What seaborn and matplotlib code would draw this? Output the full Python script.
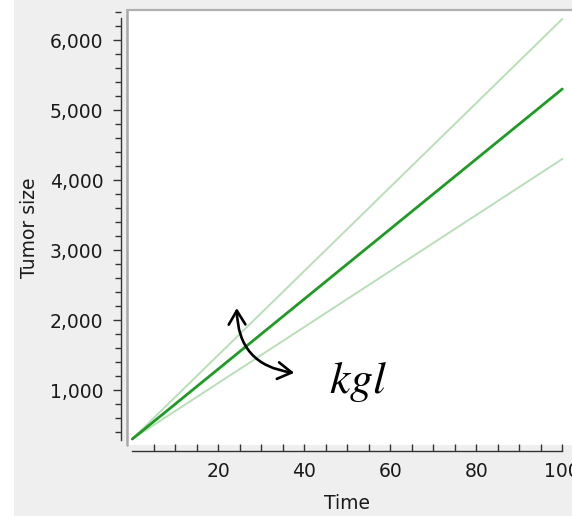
import matplotlib
matplotlib.use("Agg")
import matplotlib.pyplot as plt
import matplotlib.ticker as mticker
from matplotlib.patches import FancyArrowPatch, Rectangle
import numpy as np
import pandas as pd
import seaborn as sns

# Linear tumour growth: size = size0 + kgl * t, with two alternative kgl values
time = [0, 100]
size_mid = [300, 5300]
size_high = [300, 6300]
size_low = [300, 4300]

x_major = [20, 40, 60, 80, 100]
y_major = [1000, 2000, 3000, 4000, 5000, 6000]

df = pd.DataFrame({
    "Time": time * 3,
    "Tumor size": size_mid + size_high + size_low,
    "curve": ["mid"] * 2 + ["high"] * 2 + ["low"] * 2,
})

sns.set_theme(style="white")
plt.rcParams["font.family"] = ["DejaVu Sans"]

W, H = 572, 516
fig = plt.figure(figsize=(W / 100, H / 100), dpi=100)
fig.patch.set_facecolor("#efefef")
fig.patches.append(Rectangle((0, 0), 14 / W, 1, transform=fig.transFigure,
                             facecolor="white", edgecolor="none", zorder=0))

left_px, right_px, top_px, bot_px = 127, 600, 10, 445
ax = fig.add_axes([left_px / W, 1 - bot_px / H,
                   (right_px - left_px) / W, (bot_px - top_px) / H])
ax.set_facecolor("white")

palette = {"mid": "#1f9a24", "high": "#b8dfb8", "low": "#b8dfb8"}
widths = {"mid": 2.0, "high": 1.4, "low": 1.4}
for key in ["high", "low", "mid"]:
    sub = df[df["curve"] == key]
    sns.lineplot(data=sub, x="Time", y="Tumor size", ax=ax, color=palette[key],
                 linewidth=widths[key], legend=False, solid_capstyle="round")

ax.set_xlim(-1.23, 108.77)
ax.set_ylim(214.3, 6428.6)

# gray frame on top and left of the plotting area
for s in ["top", "right", "bottom", "left"]:
    ax.spines[s].set_visible(False)
ax.plot([0, 0], [0, 1], transform=ax.transAxes, color="#a8a8a8", lw=1.8,
        clip_on=False, zorder=5)
ax.plot([0, 1], [1, 1], transform=ax.transAxes, color="#b0b0b0", lw=1.6,
        clip_on=False, zorder=5)

# y axis line with ticks, outside the frame
ax.spines["left"].set_visible(True)
ax.spines["left"].set_position(("outward", 4))
ax.spines["left"].set_bounds(286, 6320)
ax.spines["left"].set_color("#333333")
ax.spines["left"].set_linewidth(1.0)
ax.yaxis.set_major_locator(mticker.FixedLocator(y_major))
ax.yaxis.set_minor_locator(mticker.MultipleLocator(200))
ax.yaxis.set_major_formatter(mticker.FuncFormatter(lambda v, p: f"{int(v):,}"))
ax.tick_params(axis="y", which="major", direction="out", length=6, width=1,
               color="#333333", labelsize=13.5, labelcolor="#1a1a1a", pad=7,
               left=True)
ax.tick_params(axis="y", which="minor", direction="out", length=4, width=1,
               color="#333333", left=True)

# x axis line below the frame, ticks pointing up
ax.spines["bottom"].set_visible(True)
ax.spines["bottom"].set_position(("outward", 4))
ax.spines["bottom"].set_bounds(0, 100)
ax.spines["bottom"].set_color("#333333")
ax.spines["bottom"].set_linewidth(1.0)
ax.xaxis.set_major_locator(mticker.FixedLocator(x_major))
ax.xaxis.set_minor_locator(mticker.FixedLocator([v for v in range(5, 100, 5)
                                                 if v not in x_major]))
ax.tick_params(axis="x", which="major", direction="in", length=5, width=1,
               color="#333333", labelsize=13.5, labelcolor="#1a1a1a", pad=8,
               bottom=True)
ax.tick_params(axis="x", which="minor", direction="in", length=5, width=1,
               color="#333333", bottom=True)

ax.set_xlabel("Time", fontsize=13.5, color="#1a1a1a")
ax.set_ylabel("Tumor size", fontsize=13.5, color="#1a1a1a", labelpad=8)
ax.xaxis.set_label_coords((347 - left_px) / (right_px - left_px),
                          -(494 - bot_px) / (bot_px - top_px))

# curved double arrow and the parameter name
arrow = FancyArrowPatch((24.3, 2210), (38.3, 1240),
                        arrowstyle="<->,head_length=10,head_width=6",
                        connectionstyle="arc3,rad=0.45", color="black", lw=1.9,
                        mutation_scale=1, zorder=6)
ax.add_patch(arrow)
ax.text(52.5, 957, r"$kgl$", fontsize=33, ha="center", va="baseline",
        math_fontfamily="stix", color="black")

fig.savefig("out.png", dpi=100, facecolor=fig.get_facecolor())
